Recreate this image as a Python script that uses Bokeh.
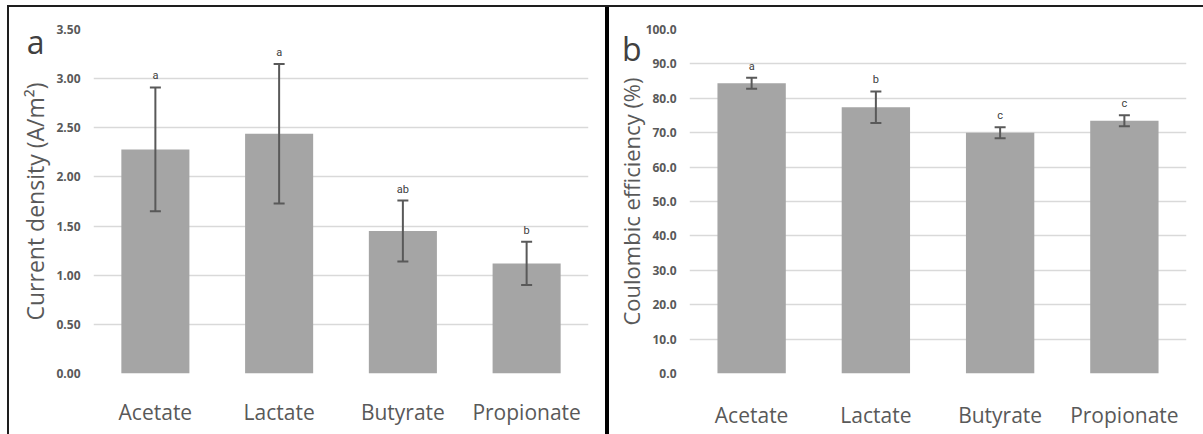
from bokeh.plotting import figure
from bokeh.models import (ColumnDataSource, Whisker, FixedTicker, NumeralTickFormatter, Range1d,
                          FactorRange, TeeHead, LinearAxis)
from bokeh.layouts import row
from bokeh.core.properties import value
from bokeh.embed import file_html
from bokeh.resources import INLINE

categories = ["Acetate", "Lactate", "Butyrate", "Propionate"]

current_density = [2.28, 2.44, 1.45, 1.12]
current_sd = [0.63, 0.71, 0.31, 0.22]
current_letters = ["a", "a", "ab", "b"]
current_ticks = [0.0, 0.5, 1.0, 1.5, 2.0, 2.5, 3.0, 3.5]

ce_values = [84.4, 77.4, 70.0, 73.5]
ce_sd = [1.6, 4.6, 1.6, 1.6]
ce_letters = ["a", "b", "c", "c"]
ce_ticks = [0, 10, 20, 30, 40, 50, 60, 70, 80, 90, 100]

FONT = "Open Sans"
GREY_TXT = "#595959"
BAR = "#a5a5a5"
ERR = "#595959"
BORDER = "#1e1e1e"


def make_panel(vals, sds, letters, ticks, ymax, fmt, ylabel, panel_letter, letter_y,
               width, b_left, b_right, b_top, b_bottom,
               ylabel_standoff, tick_standoff, letter_standoff, xlab_standoff, shadow, ylabel_size):
    upper = [v + s for v, s in zip(vals, sds)]
    lower = [v - s for v, s in zip(vals, sds)]
    src = ColumnDataSource(dict(cat=categories, val=vals, upper=upper, lower=lower, letters=letters))
    p = figure(x_range=FactorRange(*categories), y_range=Range1d(0, ymax),
               width=width, height=434, output_backend="svg", toolbar_location=None,
               min_border_left=b_left, min_border_right=b_right,
               min_border_top=b_top, min_border_bottom=b_bottom)
    p.border_fill_color = None
    p.background_fill_color = None
    p.outline_line_color = None
    p.styles = {"box-shadow": shadow}

    p.vbar(x="cat", top="val", width=0.55, source=src, fill_color=BAR, line_color=None)
    w = Whisker(base="cat", upper="upper", lower="lower", source=src,
                line_color=ERR, line_width=2, level="overlay",
                upper_head=TeeHead(size=11, line_color=ERR, line_width=2),
                lower_head=TeeHead(size=11, line_color=ERR, line_width=2))
    p.add_layout(w)
    p.text(x="cat", y="upper", text="letters", source=src, text_align="center",
           text_baseline="bottom", y_offset=-5, text_font=value("Roboto"),
           text_font_size="11px", text_color="#404040")

    p.xgrid.grid_line_color = None
    p.ygrid.grid_line_color = "#d9d9d9"
    p.ygrid.grid_line_width = 1.5

    ax = p.yaxis[0]
    ax.ticker = FixedTicker(ticks=ticks)
    ax.formatter = NumeralTickFormatter(format=fmt)
    ax.axis_line_color = None
    ax.major_tick_line_color = None
    ax.minor_tick_line_color = None
    ax.major_label_text_font = FONT
    ax.major_label_text_font_size = "12px"
    ax.major_label_text_font_style = "bold"
    ax.major_label_text_color = GREY_TXT
    ax.major_label_standoff = tick_standoff

    # outer left axis carrying the panel letter and the axis title
    ax2 = LinearAxis(ticker=FixedTicker(ticks=[letter_y]),
                     major_label_overrides={letter_y: panel_letter})
    ax2.axis_line_color = None
    ax2.major_tick_line_color = None
    ax2.minor_tick_line_color = None
    ax2.major_label_text_font = FONT
    ax2.major_label_text_font_size = "32px"
    ax2.major_label_text_color = "#404040"
    ax2.major_label_standoff = letter_standoff
    ax2.axis_label = ylabel
    ax2.axis_label_text_font = FONT
    ax2.axis_label_text_font_size = ylabel_size
    ax2.axis_label_text_font_style = "normal"
    ax2.axis_label_text_color = GREY_TXT
    ax2.axis_label_standoff = ylabel_standoff
    p.add_layout(ax2, "left")

    p.xaxis.axis_line_color = None
    p.xaxis.major_tick_line_color = None
    p.xaxis.minor_tick_line_color = None
    p.xaxis.major_label_text_font = FONT
    p.xaxis.major_label_text_font_size = "21px"
    p.xaxis.major_label_text_color = GREY_TXT
    p.xaxis.major_label_standoff = xlab_standoff
    return p


shadow1 = ("inset 0 5px 0 #ffffff, inset 7px 0 0 #ffffff, "
           f"inset 0 7px 0 {BORDER}, inset 9px 0 0 {BORDER}")
shadow2 = (f"inset 0 5px 0 #ffffff, inset 0 7px 0 {BORDER}, inset 4px 0 0 #000000")

p1 = make_panel(current_density, current_sd, current_letters, current_ticks, 3.5, "0.00",
                "Current density (A/m²)", "a", 3.38, 605, 93, 17, 29, 57,
                -27, 7, 3, 18, shadow1, "23px")
p2 = make_panel(ce_values, ce_sd, ce_letters, ce_ticks, 100, "0.0",
                "Coulombic efficiency (%)", "b", 94.5, 598, 84, 17, 23, 61,
                -27, 7, -5, 21, shadow2, "22px")

layout = row(p1, p2)
layout.styles = {"gap": "0px"}
open("out.html", "w").write(file_html(layout, INLINE))
